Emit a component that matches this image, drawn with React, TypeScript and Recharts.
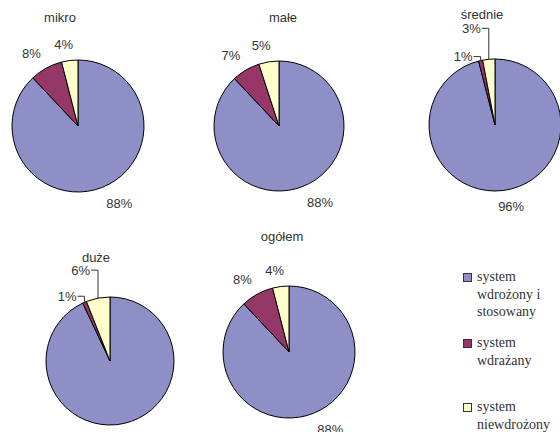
import React from 'react';
import { PieChart, Pie, Cell } from 'recharts';

const categories = ['system wdrożony i stosowany', 'system wdrażany', 'system niewdrożony'];
const legendLines = [['system', 'wdrożony i', 'stosowany'], ['system', 'wdrażany'], ['system', 'niewdrożony']];
const titles = ['mikro', 'małe', 'średnie', 'duże', 'ogółem'];
const mikro = [88, 8, 4];
const male = [88, 7, 5];
const srednie = [96, 1, 3];
const duze = [93, 1, 6];
const ogolem = [88, 8, 4];

const COLORS = ['#8E8FC7', '#953868', '#FFFFCC'];
const TEXT = '#333';
const SANS = '"Liberation Sans", Arial, sans-serif';

// layout of each pie; lift > 0 means that slice label uses an elbow leader line
const pies = [
  { values: mikro, cx: 78, cy: 126, r: 66, lift: [0, 0, 0], title: [60, 10] },
  { values: male, cx: 279, cy: 126, r: 65, lift: [0, 0, 0], title: [283, 10] },
  { values: srednie, cx: 495, cy: 125, r: 66, lift: [0, 4, 31], title: [482, 7] },
  { values: duze, cx: 110, cy: 361, r: 64, lift: [0, 6, 28], title: [96, 250] },
  { values: ogolem, cx: 289, cy: 352, r: 66, lift: [0, 0, 0], title: [282, 229] },
];

const RAD = Math.PI / 180;

const makeLabel = (lift: number[]) => (props: any) => {
  const { cx, cy, midAngle, outerRadius, value, index } = props;
  const cos = Math.cos(-midAngle * RAD);
  const sin = Math.sin(-midAngle * RAD);
  const text = `${value}%`;
  const w = 7.23 * (text.length - 1) + 11.6;
  if (lift[index] > 0) {
    const px = cx + outerRadius * cos;
    const py = cy + outerRadius * sin;
    const ey = py - lift[index];
    const hx = px - 7;
    return (
      <g key={`l${index}`}>
        <polyline points={`${px},${py} ${px},${ey} ${hx},${ey}`} fill="none" stroke={TEXT} strokeWidth={1} />
        <text x={hx - 1} y={ey} dy={4.5} textAnchor="end" fill={TEXT} fontSize={13} fontFamily={SANS}>
          {text}
        </text>
      </g>
    );
  }
  const gap = 11;
  const px = cx + (outerRadius + gap) * cos;
  const py = cy + (outerRadius + gap) * sin;
  const t = Math.max(0, Math.min(1, 0.5 + 2 * cos));
  const left = px - w * (1 - t);
  const baseY = sin < 0 ? py - 1 : py + 10;
  return (
    <text key={`l${index}`} x={left} y={baseY} textAnchor="start" fill={TEXT} fontSize={13} fontFamily={SANS}>
      {text}
    </text>
  );
};

export default function App() {
  return (
    <div style={{ position: 'absolute', left: 0, top: 0, width: 560, height: 432, background: '#fff', overflow: 'hidden' }}>
      <PieChart width={560} height={432} margin={{ top: 0, right: 0, bottom: 0, left: 0 }}>
        {pies.map((p, i) => (
          <Pie
            key={titles[i]}
            data={p.values.map((v, j) => ({ name: categories[j], value: v }))}
            dataKey="value"
            nameKey="name"
            cx={p.cx}
            cy={p.cy}
            outerRadius={p.r}
            startAngle={90}
            endAngle={-270}
            stroke="#000"
            strokeWidth={1}
            label={makeLabel(p.lift)}
            labelLine={false}
            isAnimationActive={false}
          >
            {p.values.map((_, j) => (
              <Cell key={j} fill={COLORS[j]} />
            ))}
          </Pie>
        ))}
      </PieChart>
      {pies.map((p, i) => (
        <div
          key={titles[i]}
          style={{
            position: 'absolute',
            left: p.title[0],
            top: p.title[1],
            transform: 'translateX(-50%)',
            fontFamily: SANS,
            fontSize: 13,
            color: TEXT,
            lineHeight: '16px',
            whiteSpace: 'nowrap',
          }}
        >
          {titles[i]}
        </div>
      ))}
      {legendLines.map((lines, i) => (
        <div
          key={categories[i]}
          style={{ position: 'absolute', left: 463, top: [268, 334, 398][i], display: 'flex', alignItems: 'flex-start' }}
        >
          <div style={{ width: 7, height: 7, marginTop: 5, background: COLORS[i], border: '1px solid #333' }} />
          <div style={{ marginLeft: 5, fontFamily: '"Liberation Serif", "Times New Roman", serif', fontSize: 14, lineHeight: '17.5px', color: TEXT }}>
            {lines.map((l) => (
              <div key={l}>{l}</div>
            ))}
          </div>
        </div>
      ))}
    </div>
  );
}
